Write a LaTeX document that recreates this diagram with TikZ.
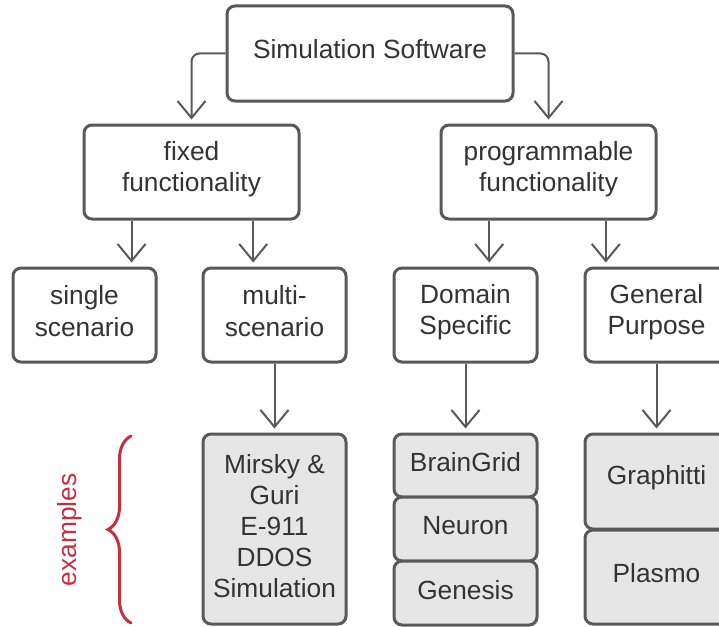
\documentclass[tikz,border=0pt]{standalone}
\usepackage{fontspec}
\setmainfont{Liberation Sans}
\usetikzlibrary{arrows.meta,calc,decorations.pathreplacing}
\definecolor{strokegray}{HTML}{595959}
\definecolor{textgray}{HTML}{333333}
\definecolor{fillgray}{HTML}{E6E6E6}
\definecolor{bracered}{HTML}{C62F3F}
\tikzset{
  box/.style={draw=strokegray, line width=3pt, rounded corners=8pt, fill=white,
    inner sep=0pt},
  exbox/.style={box, fill=fillgray},
  txt/.style={text=textgray, align=center, inner sep=0pt, yshift=3pt,
    font=\fontsize{26.3}{31.2}\selectfont},
  arr/.style={draw=strokegray, line width=2pt, shorten >=4pt,
    -{Straight Barb[length=17pt,width=28pt]}},
}
\begin{document}
\begin{tikzpicture}[x=1pt,y=-1pt]
\useasboundingbox (0,0) rectangle (719,626);
\node[box, minimum width=286pt, minimum height=95pt, label={[txt,yshift=1.5pt]center:Simulation Software}] (top) at (370,53.5) {};
\node[box, minimum width=215pt, minimum height=94pt, label={[txt]center:{fixed\\functionality}}] (fixed) at (191.5,172) {};
\node[box, minimum width=215pt, minimum height=94pt, label={[txt]center:{programmable\\functionality}}] (prog) at (548.5,172) {};
\node[box, minimum width=143pt, minimum height=94pt, label={[txt,yshift=1pt]center:{single\\scenario}}] (single) at (84.5,315) {};
\node[box, minimum width=143pt, minimum height=94pt, label={[txt,yshift=1pt]center:{multi-\\scenario}}] (multi) at (274.5,315) {};
\node[box, minimum width=143pt, minimum height=94pt, label={[txt]center:{Domain\\Specific}}] (domain) at (465.5,315) {};
\node[box, minimum width=143pt, minimum height=94pt, label={[txt]center:{General\\Purpose}}] (general) at (656.5,315) {};
\node[exbox, minimum width=143pt, minimum height=190pt, label={[txt]center:{Mirsky \&\\Guri\\E-911\\DDOS\\Simulation}}] (mirsky) at (274.5,529) {};
\node[exbox, minimum width=143pt, minimum height=63pt, label={[txt]center:BrainGrid}] (braingrid) at (465.5,465.5) {};
\node[exbox, minimum width=143pt, minimum height=64pt, label={[txt]center:Neuron}] (neuron) at (465.5,529) {};
\node[exbox, minimum width=143pt, minimum height=64pt, label={[txt]center:Genesis}] (genesis) at (465.5,593) {};
\node[exbox, minimum width=143pt, minimum height=95pt, label={[txt,yshift=1pt]center:Graphitti}] (graphitti) at (656.5,481.5) {};
\node[exbox, minimum width=143pt, minimum height=94pt, label={[txt,yshift=1pt]center:Plasmo}] (plasmo) at (656.5,577) {};
% connectors
\draw[arr, rounded corners=8pt] (top.west) -| (fixed.north);
\draw[arr, rounded corners=8pt] (top.east) -| (prog.north);
\coordinate (f1) at ($(fixed.south west)!0.225!(fixed.south east)$);
\coordinate (f2) at ($(fixed.south west)!0.783!(fixed.south east)$);
\coordinate (p1) at ($(prog.south west)!0.228!(prog.south east)$);
\coordinate (p2) at ($(prog.south west)!0.763!(prog.south east)$);
\draw[arr] (f1) -- (f1 |- single.north);
\draw[arr] (f2) -- (f2 |- multi.north);
\draw[arr] (p1) -- (p1 |- domain.north);
\draw[arr] (p2) -- (p2 |- general.north);
\draw[arr] (multi.south) -- (mirsky.north);
\draw[arr] (domain.south) -- (braingrid.north);
\draw[arr] (general.south) -- (graphitti.north);
% brace
\coordinate (bb) at (131,623);
\coordinate (bt) at (131,436);
\draw[draw=bracered, line width=3pt, line cap=round,
  decorate, decoration={brace, amplitude=23pt}] (bb) -- (bt);
\node[text=bracered, rotate=90, font=\fontsize{26.3}{31.2}\selectfont] (ex) at (70,530) {examples};
\end{tikzpicture}
\end{document}
